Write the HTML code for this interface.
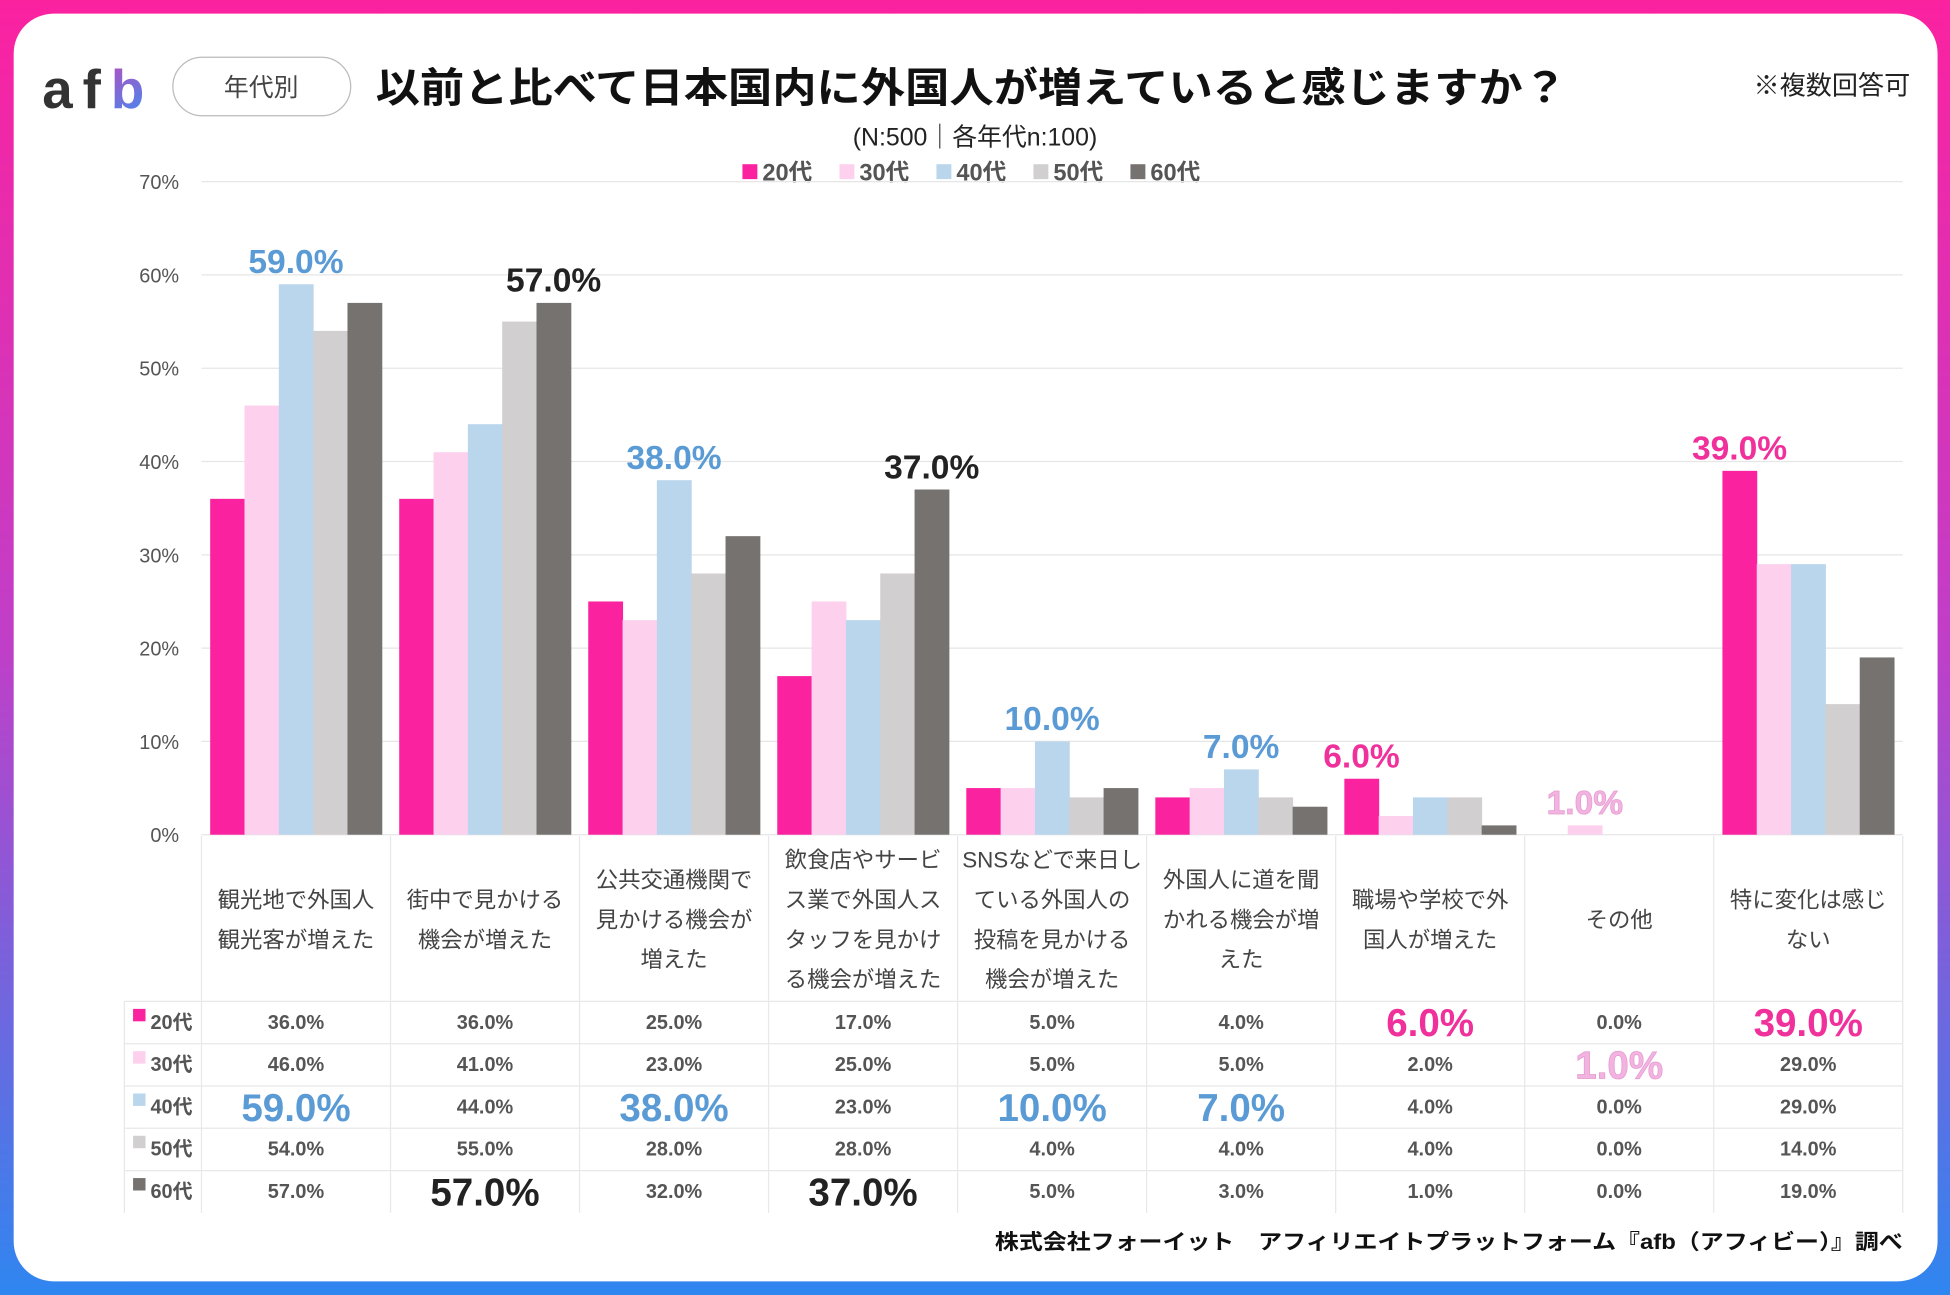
<!DOCTYPE html>
<html><head><meta charset="utf-8">
<style>
html,body{margin:0;padding:0;background:#fff;}
svg{display:block;}
text{font-family:"Liberation Sans","Noto Sans CJK JP",sans-serif;}
</style></head>
<body>
<svg id="chart" width="1950" height="1295" viewBox="0 0 1568 1041" preserveAspectRatio="none" xmlns="http://www.w3.org/2000/svg">
<defs>
<linearGradient id="frameGrad" x1="0" y1="0" x2="0" y2="1">
<stop offset="0" stop-color="#fb22a0"/><stop offset="0.5" stop-color="#c03fc8"/><stop offset="1" stop-color="#2f86f0"/>
</linearGradient>
<linearGradient id="logoGrad" x1="0" y1="0" x2="1" y2="1">
<stop offset="0" stop-color="#f32ea4"/><stop offset="1" stop-color="#3f8cf2"/>
</linearGradient>
</defs>
<rect x="0" y="0" width="1568" height="1041" fill="url(#frameGrad)"/>
<rect x="11" y="11" width="1547" height="1019" rx="32" fill="#fff"/>
<text x="34" y="87" font-size="44" font-weight="bold" fill="#333" textLength="82">af<tspan fill="url(#logoGrad)">b</tspan></text>
<rect x="139" y="46" width="143" height="47" rx="23.5" fill="#fff" stroke="#bbb" stroke-width="1"/>
<text x="210" y="77" font-size="20" text-anchor="middle" fill="#444">年代別</text>
<text x="302" y="82" font-size="33" font-weight="bold" fill="#111" textLength="958" lengthAdjust="spacingAndGlyphs">以前と比べて日本国内に外国人が増えていると感じますか？</text>
<text x="1536" y="76" font-size="21" text-anchor="end" fill="#222">※複数回答可</text>
<text x="784" y="117" font-size="20" text-anchor="middle" fill="#222">(N:500｜各年代n:100)</text>
<g id="legend"></g>
<g id="grid"></g>
<g id="bars"></g>
<g id="table"></g>
<text x="800" y="1004" font-size="17" font-weight="bold" fill="#111" textLength="730" lengthAdjust="spacingAndGlyphs">株式会社フォーイット　アフィリエイトプラットフォーム『afb（アフィビー）』調べ</text>
</svg>
<script>
const categories = [
 ["観光地で外国人","観光客が増えた"],
 ["街中で見かける","機会が増えた"],
 ["公共交通機関で","見かける機会が","増えた"],
 ["飲食店やサービ","ス業で外国人ス","タッフを見かけ","る機会が増えた"],
 ["SNSなどで来日し","ている外国人の","投稿を見かける","機会が増えた"],
 ["外国人に道を聞","かれる機会が増","えた"],
 ["職場や学校で外","国人が増えた"],
 ["その他"],
 ["特に変化は感じ","ない"]
];
const seriesNames = ["20代","30代","40代","50代","60代"];
const s20 = [36,36,25,17,5,4,6,0,39];
const s30 = [46,41,23,25,5,5,2,1,29];
const s40 = [59,44,38,23,10,7,4,0,29];
const s50 = [54,55,28,28,4,4,4,0,14];
const s60 = [57,57,32,37,5,3,1,0,19];
const yTicks = [0,10,20,30,40,50,60,70];
// highlighted series index per category
const highlight = [2,4,2,4,2,2,0,1,0];

const series = [s20,s30,s40,s50,s60];
const colors = ["#fb22a0","#fdd0ee","#bad6ed","#d2cfd0","#767270"];
const hlColors = ["#f0309b","#f2b3e0","#5b9bd5","#888","#222"];
const NS = "http://www.w3.org/2000/svg";
function mk(tag, attrs, parent){const e=document.createElementNS(NS,tag);for(const k in attrs)e.setAttribute(k,attrs[k]);parent.appendChild(e);return e;}
const x0=162, cw=152, yBase=671, yPer=7.5;
const y = v => yBase - v*yPer;
const catX = i => x0 + i*cw;
const barW=27.6, barPad=7;

const grid=document.getElementById('grid');
yTicks.forEach(t=>{
  const l=mk('line',{x1:x0,x2:1530,y1:y(t),y2:y(t),stroke:'#e6e6e6','stroke-width':1},grid);
  
  
  const tx=mk('text',{x:144,y:y(t)+6,'font-size':16,'text-anchor':'end',fill:'#555'},grid);
  tx.textContent=t+'%';
  
  
});

const leg=document.getElementById('legend');
seriesNames.forEach((n,i)=>{
  const lx=597+i*78;
  const r=mk('rect',{x:lx,y:132,width:12,height:12,fill:colors[i]},leg);
  
  
  const t=mk('text',{x:lx+16,y:145,'font-size':19,'font-weight':'bold',fill:'#555'},leg);
  t.textContent=n;
  
  
});

const bars=document.getElementById('bars');
categories.forEach((c,ci)=>{
  series.forEach((s,si)=>{
    const bx=catX(ci)+barPad+si*barW;
    const r=mk('rect',{x:bx,y:y(s[ci]),width:barW+0.4,height:s[ci]*yPer,fill:colors[si]},bars);
    
    
  });
  const hi=highlight[ci], v=series[hi][ci];
  const lx=catX(ci)+barPad+hi*barW+barW/2;
  const t=mk('text',{x:lx,y:y(v)-9,'font-size':27,'font-weight':'bold','text-anchor':'middle',fill:hlColors[hi]},bars);
  if(hi===1){t.setAttribute('stroke','#e59ad0');t.setAttribute('stroke-width','0.6');}
  t.textContent=v.toFixed(1)+'%';
  
  
});

const tb=document.getElementById('table');
const tTop=672, catBottom=805, rowH=34;
for(let i=0;i<=9;i++){
  const l=mk('line',{x1:catX(i),x2:catX(i),y1:tTop,y2:tTop+133+5*rowH,stroke:'#e8e8e8','stroke-width':1},tb);
  
  
}
const l0=mk('line',{x1:100,x2:100,y1:catBottom,y2:catBottom+5*rowH,stroke:'#e8e8e8'},tb);


for(let r=0;r<=4;r++){
  const l=mk('line',{x1:100,x2:1530,y1:catBottom+r*rowH,y2:catBottom+r*rowH,stroke:'#e8e8e8'},tb);
  
  
}
categories.forEach((c,ci)=>{
  const cx=catX(ci)+cw/2, lh=32;
  const startY=(tTop+catBottom)/2 - (c.length-1)*lh/2 + 7;
  c.forEach((line,li)=>{
    const t=mk('text',{x:cx,y:startY+li*lh,'font-size':18,'text-anchor':'middle',fill:'#444'},tb);
    t.textContent=line;
    
    
  });
});
seriesNames.forEach((n,si)=>{
  const ry=catBottom+si*rowH+rowH/2;
  const sw=mk('rect',{x:107,y:ry-11,width:10,height:10,fill:colors[si]},tb);
  
  
  const t=mk('text',{x:121,y:ry+5,'font-size':16,'font-weight':'bold',fill:'#555'},tb);
  t.textContent=n;
  
  
  categories.forEach((c,ci)=>{
    const v=series[si][ci], big=highlight[ci]===si;
    const t2=mk('text',{x:catX(ci)+cw/2,y:ry+(big?11:5),'font-size':big?31:16,'font-weight':'bold','text-anchor':'middle',fill:big?hlColors[si]:'#555'},tb);
    if(big&&si===1){t2.setAttribute('stroke','#e59ad0');t2.setAttribute('stroke-width','0.6');}
    t2.textContent=v.toFixed(1)+'%';
    
    
  });
});
</script>
</body></html>
